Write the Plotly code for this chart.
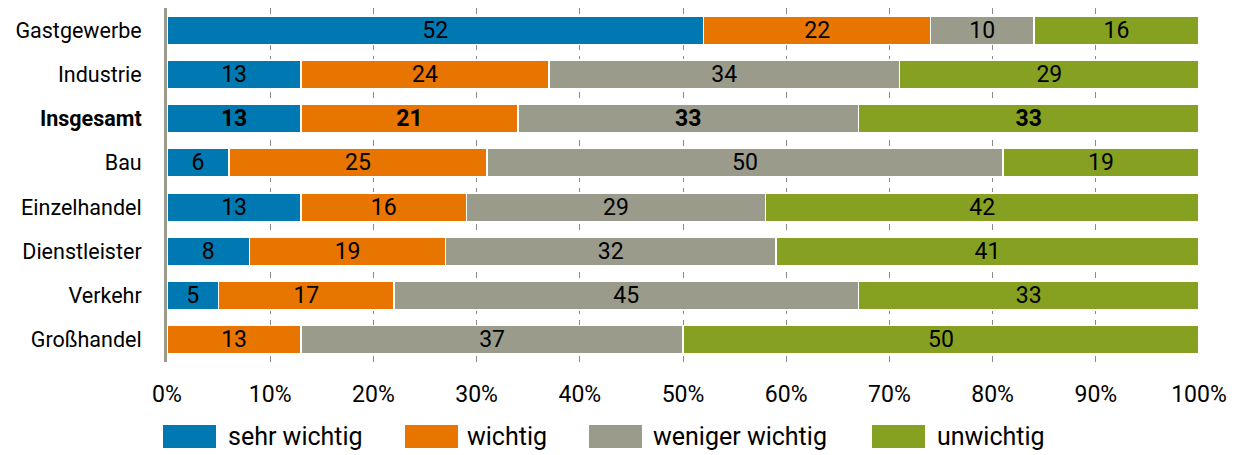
import plotly.graph_objects as go

categories = ["Gastgewerbe", "Industrie", "Insgesamt", "Bau", "Einzelhandel",
              "Dienstleister", "Verkehr", "Großhandel"]
series_names = ["sehr wichtig", "wichtig", "weniger wichtig", "unwichtig"]
sehr_wichtig = [52, 13, 13, 6, 13, 8, 5, 0]
wichtig = [22, 24, 21, 25, 16, 19, 17, 13]
weniger_wichtig = [10, 34, 33, 50, 29, 32, 45, 37]
unwichtig = [16, 29, 33, 19, 42, 41, 33, 50]
colors = ["#0079B2", "#E87500", "#9B9B8C", "#86A022"]
x_ticks = [0, 10, 20, 30, 40, 50, 60, 70, 80, 90, 100]
x_tick_labels = [f"{v}%" for v in x_ticks]

FONT = "Roboto"
values = [sehr_wichtig, wichtig, weniger_wichtig, unwichtig]

# page has an 8px body margin; figure is sized so that the plot lands on
# page coordinates: plot x 167..1199, y 8..362
OFF = 8
W, H = 1236 - OFF, 455 - OFF
PL, PR, PT, PB = 167, 1199, 8, 362
ml, mr, mt, mb = PL - OFF, (W + OFF) - PR, PT - OFF, (H + OFF) - PB
pw, ph = PR - PL, PB - PT

fig = go.Figure()
for name, vals, col in zip(series_names, values, colors):
    texts = []
    for cat, v in zip(categories, vals):
        if v == 0:
            texts.append("")
        elif cat == "Insgesamt":
            texts.append(f"<b>{v}</b>")
        else:
            texts.append(str(v))
    fig.add_trace(go.Bar(
        y=categories, x=vals, name=name, orientation="h",
        marker=dict(color=col, line=dict(color="white", width=1.5)),
        text=texts, textposition="inside", insidetextanchor="middle",
        textangle=0, constraintext="none",
        textfont=dict(family=FONT, size=23, color="black"),
        width=0.64, showlegend=False, hoverinfo="skip",
    ))

ticktext = [f"<b>{c}</b>" if c == "Insgesamt" else c for c in categories]

fig.update_layout(
    barmode="stack",
    width=W, height=H,
    margin=dict(l=ml, r=mr, t=mt, b=mb, autoexpand=False),
    plot_bgcolor="white", paper_bgcolor="white",
    font=dict(family=FONT, size=21.5, color="black"),
    uniformtext=dict(minsize=23, mode="show"),
    xaxis=dict(range=[0, 100], tickvals=x_ticks, ticktext=x_tick_labels,
               showgrid=True, gridcolor="#8a8a8a", gridwidth=1, griddash="6px,6px",
               zeroline=False, showline=False,
               ticks="outside", ticklen=11, tickcolor="rgba(0,0,0,0)",
               tickfont=dict(family=FONT, size=23, color="black")),
    yaxis=dict(categoryorder="array", categoryarray=categories,
               autorange="reversed", tickvals=categories, ticktext=ticktext,
               showline=True, linecolor="#9B9B8C", linewidth=3,
               showgrid=False, zeroline=False,
               ticks="outside", ticklen=18, tickcolor="rgba(0,0,0,0)",
               tickfont=dict(family=FONT, size=21.5, color="black")),
)

# custom legend (page pixel positions)
leg_x = [163, 405, 589, 872]
leg_tx = [228, 467, 653, 937]
for name, col, x0, tx in zip(series_names, colors, leg_x, leg_tx):
    fig.add_shape(type="rect", xref="paper", yref="paper",
                  x0=(x0 - PL) / pw, x1=(x0 + 53 - PL) / pw,
                  y0=(PB - 448) / ph, y1=(PB - 425) / ph,
                  line=dict(width=0), fillcolor=col)
    fig.add_annotation(xref="paper", yref="paper", x=(tx - PL) / pw,
                       y=(PB - 437) / ph, text=name, showarrow=False,
                       xanchor="left", yanchor="middle", xshift=-2,
                       font=dict(family=FONT, size=25, color="black"))

fig.write_html("out.html")
